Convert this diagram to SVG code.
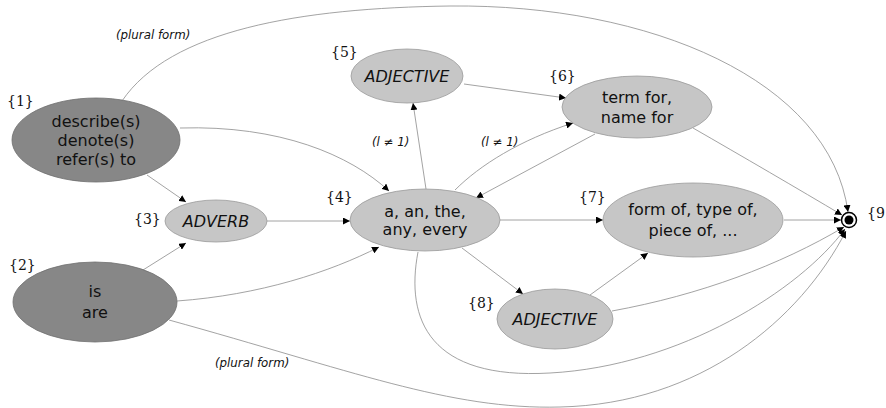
<svg xmlns="http://www.w3.org/2000/svg" width="886" height="408" viewBox="0 0 886 408">
<style>
.bg{fill:#ffffff}
.dark{fill:#878787;stroke:#6e6e6e;stroke-width:0.8}
.light{fill:#c6c6c6;stroke:#9a9a9a;stroke-width:0.8}
.nt{font-family:"DejaVu Sans","Liberation Sans",sans-serif;font-size:16px;fill:#111;text-anchor:middle}
.it{font-style:italic}
.id{font-family:"DejaVu Serif","Liberation Serif",serif;font-size:14px;fill:#111}
.el{font-family:"DejaVu Sans","Liberation Sans",sans-serif;font-size:11.8px;font-style:italic;fill:#111}
.e{fill:none;stroke:#8c8c8c;stroke-width:0.8;marker-end:url(#arr)}
</style>
<defs>
<marker id="arr" viewBox="0 0 10 10" refX="10" refY="5" markerWidth="7" markerHeight="7" markerUnits="userSpaceOnUse" orient="auto">
<path d="M0,0 L10,5 L0,10 z" fill="#000"/>
</marker>
</defs>
<rect class="bg" x="0" y="0" width="886" height="408"/>
<g id="connectors">
<path class="e" d="M122,101 C170,30 300,8 450,6 C650,4 830,80 848,212"/>
<path class="e" d="M180,128 C280,125 350,155 389,191"/>
<path class="e" d="M147,175 L186,202"/>
<path class="e" d="M143,270 L186,243"/>
<path class="e" d="M267,221 L350,221"/>
<path class="e" d="M177,301 C260,295 330,272 379,247"/>
<path class="e" d="M169,320 C350,370 450,410 560,407 C700,404 800,320 846,231"/>
<path class="e" d="M418,252 C405,320 430,380 550,373 C680,366 800,290 845,229"/>
<path class="e" d="M426,189 L413,103"/>
<path class="e" d="M464,84 L566,98"/>
<path class="e" d="M455,190 C480,165 520,140 573,123"/>
<path class="e" d="M595,134 L476,198"/>
<path class="e" d="M500,220 L603,220"/>
<path class="e" d="M462,248 L523,294"/>
<path class="e" d="M590,295 L648,253"/>
<path class="e" d="M612,311 C700,295 780,265 844,227"/>
<path class="e" d="M784,220 L841,220"/>
<path class="e" d="M693,128 C740,155 800,190 842,215"/>
<text class="el" x="116" y="39">(plural form)</text>
<text class="el" x="215" y="367">(plural form)</text>
<text class="el" x="372" y="146">(l ≠ 1)</text>
<text class="el" x="481" y="146">(l ≠ 1)</text>
</g>
<g id="n1">
<ellipse class="dark" cx="96" cy="140" rx="84" ry="42"/>
<text class="nt" x="96" y="127">describe(s)</text>
<text class="nt" x="96" y="146">denote(s)</text>
<text class="nt" x="96" y="165">refer(s) to</text>
<text class="id" x="7" y="106">{1}</text>
</g>
<g id="n2">
<ellipse class="dark" cx="95" cy="302" rx="82" ry="40"/>
<text class="nt" x="95" y="297">is</text>
<text class="nt" x="95" y="318">are</text>
<text class="id" x="9" y="270">{2}</text>
</g>
<g id="n3">
<ellipse class="light" cx="216" cy="221" rx="51" ry="21"/>
<text class="nt it" x="216" y="227">ADVERB</text>
<text class="id" x="134" y="224">{3}</text>
</g>
<g id="n4">
<ellipse class="light" cx="425" cy="220" rx="75" ry="31"/>
<text class="nt" x="425" y="217">a, an, the,</text>
<text class="nt" x="425" y="235">any, every</text>
<text class="id" x="326" y="202">{4}</text>
</g>
<g id="n5">
<ellipse class="light" cx="407" cy="76" rx="56" ry="27"/>
<text class="nt it" x="407" y="82">ADJECTIVE</text>
<text class="id" x="331" y="57">{5}</text>
</g>
<g id="n6">
<ellipse class="light" cx="637" cy="107" rx="75" ry="31"/>
<text class="nt" x="637" y="103">term for,</text>
<text class="nt" x="637" y="123">name for</text>
<text class="id" x="549" y="81">{6}</text>
</g>
<g id="n7">
<ellipse class="light" cx="693" cy="220" rx="90" ry="37"/>
<text class="nt" x="693" y="215">form of, type of,</text>
<text class="nt" x="693" y="236">piece of, ...</text>
<text class="id" x="579" y="202">{7}</text>
</g>
<g id="n8">
<ellipse class="light" cx="555" cy="319" rx="58" ry="30"/>
<text class="nt it" x="555" y="325">ADJECTIVE</text>
<text class="id" x="468" y="308">{8}</text>
</g>
<g id="n9">
<circle cx="849" cy="220" r="7.5" fill="#fff" stroke="#000" stroke-width="1.5"/>
<circle cx="849" cy="220" r="4.5" fill="#000"/>
<text class="id" x="867" y="218">{9</text>
</g>
</svg>
